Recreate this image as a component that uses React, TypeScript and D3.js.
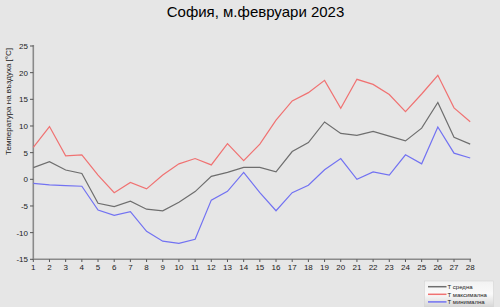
import React from "react";
import * as d3 from "d3";

const days = d3.range(1, 29);
const tMean = [2.2, 3.3, 1.75, 1.1, -4.5, -5.1, -4.1, -5.6, -5.9, -4.3, -2.3, 0.56, 1.3, 2.25, 2.25, 1.4, 5.2, 6.9, 10.75, 8.6, 8.25, 9.0, 8.1, 7.2, 9.6, 14.4, 7.9, 6.6];
const tMax = [6.0, 9.9, 4.4, 4.6, 0.8, -2.5, -0.6, -1.8, 0.8, 2.9, 3.9, 2.7, 6.7, 3.5, 6.6, 11.1, 14.7, 16.25, 18.55, 13.3, 18.75, 17.8, 15.9, 12.7, 16.0, 19.5, 13.4, 10.8];
const tMin = [-0.75, -1.06, -1.2, -1.3, -5.75, -6.75, -6.06, -9.75, -11.6, -12.0, -11.25, -3.9, -2.25, 1.3, -2.5, -5.9, -2.5, -1.1, 1.8, 3.9, 0.0, 1.4, 0.8, 4.6, 2.9, 9.8, 4.9, 4.0];
const yTicks = [-15, -10, -5, 0, 5, 10, 15, 20, 25];

const series = [
  { name: "Т средна", values: tMean, color: "#6e6e6e" },
  { name: "Т максимална", values: tMax, color: "#f07272" },
  { name: "Т минимална", values: tMin, color: "#7272f2" },
];

export default function App() {
  const W = 500, H = 307;
  const x = d3.scaleLinear().domain([1, 28]).range([33.3, 470.2]);
  const y = d3.scaleLinear().domain([-15, 25]).range([259.3, 46]);
  const line = d3.line<number>().x((_, i) => x(days[i])).y((d) => y(d));
  const font = "'Liberation Sans', Arial, sans-serif";
  return (
    <svg width={W} height={H} style={{ position: "absolute", left: 0, top: 0 }} fontFamily={font}>
      <defs>
        <linearGradient id="lg" x1="0" y1="0" x2="0" y2="1">
          <stop offset="0" stopColor="#f2f2f2" />
          <stop offset="0.5" stopColor="#fafafa" />
          <stop offset="1" stopColor="#d6d6d6" />
        </linearGradient>
      </defs>
      <rect x={0} y={0} width={W} height={H} fill="#e6e6e6" />
      <text x={255.5} y={17} textAnchor="middle" fontSize={15} fill="#000">София, м.февруари 2023</text>
      <text transform={`translate(11,48) rotate(-90)`} textAnchor="end" fontSize={8} fill="#222">Температура на въздуха [°C]</text>
      {/* y axis */}
      <line x1={33.3} x2={33.3} y1={45} y2={260} stroke="#8a8a8a" strokeWidth={1.6} />
      {yTicks.map((t) => (
        <g key={t}>
          <line x1={30} x2={33.3} y1={y(t)} y2={y(t)} stroke="#555" strokeWidth={1} />
          <text x={28} y={y(t) + 3} textAnchor="end" fontSize={8} fill="#222">{t}</text>
        </g>
      ))}
      {/* x axis */}
      <line x1={33} x2={471} y1={259.3} y2={259.3} stroke="#8a8a8a" strokeWidth={1.6} />
      {days.map((d) => (
        <g key={d}>
          <line x1={x(d)} x2={x(d)} y1={259.3} y2={262} stroke="#555" strokeWidth={1} />
          <text x={x(d)} y={270} textAnchor="middle" fontSize={8} fill="#222">{d}</text>
        </g>
      ))}
      {series.map((s) => (
        <path key={s.name} d={line(s.values) || ""} fill="none" stroke={s.color} strokeWidth={1.2} />
      ))}
      {/* legend */}
      <rect x={424.5} y={281} width={69} height={26} fill="url(#lg)" stroke="#d0d0d0" strokeWidth={0.5} />
      {series.map((s, i) => (
        <g key={s.name}>
          <line x1={428} x2={446.5} y1={286.7 + i * 7.6} y2={286.7 + i * 7.6} stroke={s.color} strokeWidth={1.5} />
          <text x={447.5} y={288.9 + i * 7.6} fontSize={6} fill="#222">{s.name}</text>
        </g>
      ))}
    </svg>
  );
}
